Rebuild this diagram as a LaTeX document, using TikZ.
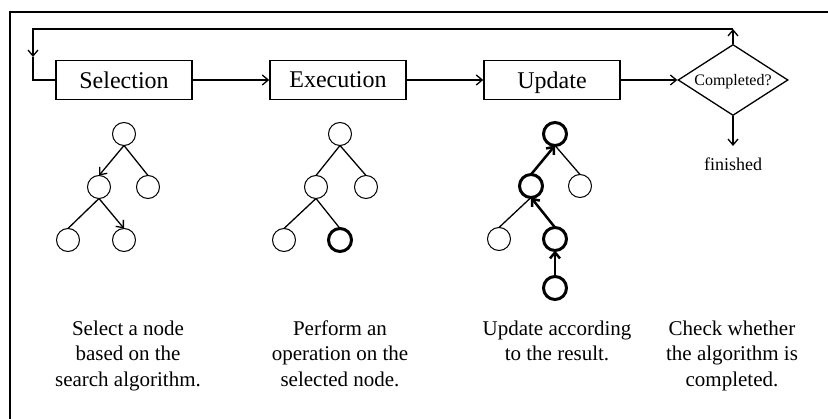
\documentclass[tikz,border=0pt]{standalone}
\usepackage{fontspec}
\setmainfont{Liberation Serif}
\usetikzlibrary{arrows.meta,shapes.geometric}

\tikzset{
    box/.style={draw, line width=1.5pt, minimum width=136pt, minimum height=39pt,
        inner sep=0pt, text depth=0pt, font=\fontsize{24}{28}\selectfont},
    tnode/.style={draw, circle, line width=1pt, minimum size=23pt, inner sep=0pt, outer sep=0pt},
    tbold/.style={tnode, line width=3pt},
    arr/.style={-{Straight Barb[length=6pt,width=10pt]}},
    thickarr/.style={arr, line width=2.5pt},
    desc/.style={align=center, inner sep=0pt, anchor=north, font=\fontsize{21}{25.5}\selectfont}
}

\begin{document}
\begin{tikzpicture}[x=1pt, y=-1pt, line width=1.3pt]

    \useasboundingbox (0,0) rectangle (828,419);

    % Marco
    \draw (828,12) -- (10,12) -- (10,419);

    % Pasos
    \node[box] (sel) at (124,80) {Selection};
    \node[box] (exe) at (338,80) {Execution};
    \node[box] (upd) at (552,80) {Update};
    \node[draw, diamond, aspect=1.55, minimum width=110pt, minimum height=71pt,
        inner sep=0pt, text depth=0pt, font=\fontsize{16}{19}\selectfont] (cmp) at (733,80) {Completed?};
    \node[font=\fontsize{18}{21}\selectfont, inner xsep=0pt, inner ysep=11pt, anchor=north]
        (fin) at (733,146) {finished};

    \draw[arr] (sel) -- (exe);
    \draw[arr] (exe) -- (upd);
    \draw[arr] (upd) -- (cmp);
    \draw[arr] (cmp.south) -- (fin.north);

    % Vuelta al inicio
    \coordinate (tr) at (733,29);
    \coordinate (tl) at (33,29);
    \coordinate (lm) at (33,57);
    \draw[arr] (cmp.north) -- (tr);
    \draw[arr] (tr) -- (tl) -- (lm);
    \draw (lm) -- (sel.west -| lm) -- (sel.west);

    % Arbol: seleccion
    \foreach \n/\x/\y in {s0/124/134, s1/99/187, s2/148/187, s3/68/240, s4/124/240}
    \node[tnode] (\n) at (\x,\y) {};
    \draw[arr] (s0.south) -- (s1.north);
    \draw (s0.south) -- (s2.north);
    \draw (s1.south) -- (s3.north);
    \draw[arr] (s1.south) -- (s4.north);

    % Arbol: ejecucion
    \foreach \n/\x/\y in {e0/340/134, e1/316/187, e2/366/187, e3/284/240}
    \node[tnode] (\n) at (\x,\y) {};
    \node[tbold] (e4) at (340,240) {};
    \draw (e0.south) -- (e1.north);
    \draw (e0.south) -- (e2.north);
    \draw (e1.south) -- (e3.north);
    \draw (e1.south) -- (e4.north);

    % Arbol: actualizacion
    \foreach \n/\x/\y in {u0/555/134, u1/531/186, u4/555/239, u5/555/288}
    \node[tbold] (\n) at (\x,\y) {};
    \foreach \n/\x/\y in {u2/580/186, u3/499/239}
    \node[tnode] (\n) at (\x,\y) {};
    \draw (u0.south) -- (u2.north);
    \draw (u1.south) -- (u3.north);
    \draw[thickarr] (u5.north) -- (u4.south);
    \draw[thickarr] (u4.north) -- (u1.south);
    \draw[thickarr] (u1.north) -- (u0.south);

    % Descripciones
    \node[desc] (t1) at (128,320) {Select a node\\based on the\\search algorithm.};
    \node[desc] (t2) at (340,320) {Perform an\\operation on the\\selected node.};
    \node[desc] (t3) at (557,320) {Update according\\to the result.};
    \node[desc] (t4) at (732,320) {Check whether\\the algorithm is\\completed.};

\end{tikzpicture}
\end{document}
